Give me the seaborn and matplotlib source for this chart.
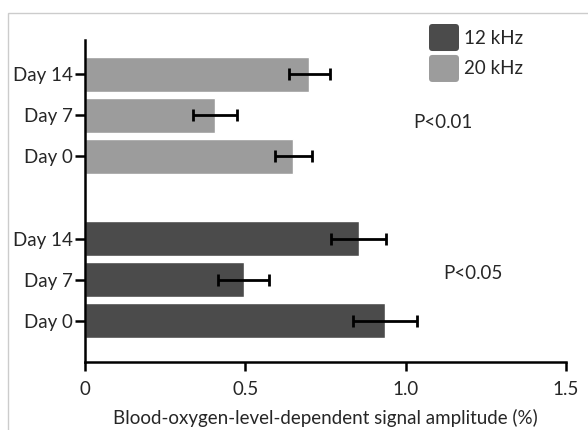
import numpy as np
import pandas as pd
import matplotlib
matplotlib.use("Agg")
import matplotlib.pyplot as plt
import matplotlib.patches as mpatches
from matplotlib.legend_handler import HandlerPatch
import seaborn as sns

# data
days = ["Day 14", "Day 7", "Day 0"]
amp_20k = [0.70, 0.405, 0.65]
err_20k = [0.065, 0.068, 0.058]
amp_12k = [0.853, 0.495, 0.935]
err_12k = [0.085, 0.08, 0.10]
freqs = ["12 kHz", "20 kHz"]
colors = {"12 kHz": "#4b4b4b", "20 kHz": "#9c9c9c"}

rows = ["20_" + d for d in days] + ["gap"] + ["12_" + d for d in days]
df = pd.DataFrame({
    "row": rows[:3] + rows[4:],
    "amp": amp_20k + amp_12k,
    "err": err_20k + err_12k,
    "freq": ["20 kHz"] * 3 + ["12 kHz"] * 3,
})

sns.set_style("white")
plt.rcParams["font.family"] = ["Lato", "DejaVu Sans"]
fs = 13.5

fig = plt.figure(figsize=(5.88, 4.30), dpi=100)
ax = fig.add_axes([85 / 588, 1 - 362 / 430, (566 - 85) / 588, (362 - 40) / 430])

sns.barplot(data=df, x="amp", y="row", hue="freq", order=rows,
            hue_order=freqs, palette=colors, dodge=False, width=0.85,
            errorbar=None, legend=False, ax=ax)

# error bars on the same positions
pos = [rows.index(r) for r in df["row"]]
ax.errorbar(df["amp"], pos, xerr=df["err"], fmt="none", ecolor="black",
            elinewidth=2, capsize=4, capthick=2)

ax.set_ylim(7.0, -0.83)
ax.set_xlim(0, 1.5)
ax.set_yticks(pos)
ax.set_yticklabels(days + days, fontsize=fs)
ax.set_xticks([0, 0.5, 1.0, 1.5])
ax.set_xticklabels(["0", "0.5", "1.0", "1.5"], fontsize=fs)
ax.set_ylabel("")
ax.set_xlabel("Blood-oxygen-level-dependent signal amplitude (%)",
              fontsize=fs, labelpad=8)

for s in ["top", "right"]:
    ax.spines[s].set_visible(False)
for s in ["left", "bottom"]:
    ax.spines[s].set_color("black")
    ax.spines[s].set_linewidth(1.8)
ax.tick_params(axis="x", direction="out", length=6.5, width=1.8,
               color="black", bottom=True, pad=7)
ax.tick_params(axis="y", direction="out", length=7, width=1.8,
               color="black", left=True, pad=2)

ax.text(1.115, 1.17, "P<0.01", fontsize=fs, ha="center", va="center")
ax.text(1.21, 4.84, "P<0.05", fontsize=fs, ha="center", va="center")


def rounded_square(legend, orig_handle, xdescent, ydescent, width, height, fontsize):
    r = 2.5
    return mpatches.FancyBboxPatch((-xdescent + r, -ydescent + r),
                                   width - 2 * r, height - 2 * r,
                                   boxstyle=f"round,pad={r}")


handles = [mpatches.Patch(facecolor=colors[f], edgecolor="none", label=f)
           for f in freqs]
leg = ax.legend(handles=handles, loc="upper left",
                bbox_to_anchor=(429 / 588, 1 - 24 / 430),
                bbox_transform=fig.transFigure, frameon=False, fontsize=fs,
                handlelength=1.6, handleheight=1.84, handletextpad=0.25,
                labelspacing=0.21, borderpad=0, borderaxespad=0,
                handler_map={mpatches.Patch: HandlerPatch(patch_func=rounded_square)})

# light frame around the figure panel
fig.patches.append(plt.Rectangle((8 / 588, -0.1), 1.2, 1.1 - 13 / 430,
                                 transform=fig.transFigure, fill=False,
                                 edgecolor="#cccccc", linewidth=1))

fig.savefig("out.png", dpi=100)
